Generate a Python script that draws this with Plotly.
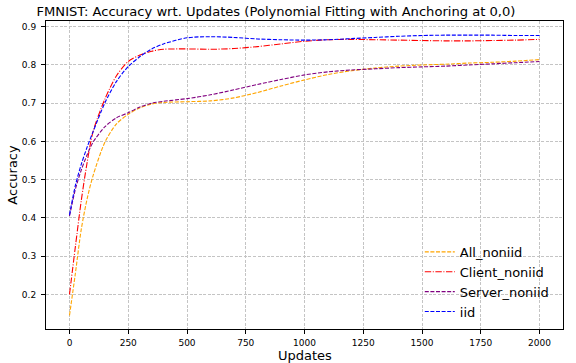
import plotly.graph_objects as go

updates = [0, 25, 50, 75, 100, 150, 200, 250, 300, 350, 400, 500, 600, 700, 800,
           900, 1000, 1100, 1200, 1300, 1400, 1500, 1600, 1700, 1800, 1900, 2000]

all_noniid = [0.145, 0.255, 0.370, 0.450, 0.510, 0.597, 0.646, 0.671, 0.688, 0.698, 0.702,
              0.704, 0.706, 0.714, 0.728, 0.745, 0.761, 0.775, 0.785, 0.792, 0.797,
              0.800, 0.802, 0.805, 0.807, 0.810, 0.814]
client_noniid = [0.200, 0.325, 0.445, 0.545, 0.625, 0.710, 0.772, 0.809, 0.826, 0.836, 0.841,
                 0.842, 0.841, 0.843, 0.848, 0.855, 0.862, 0.866, 0.867, 0.866, 0.865,
                 0.864, 0.863, 0.863, 0.864, 0.865, 0.867]
server_noniid = [0.405, 0.475, 0.525, 0.565, 0.598, 0.638, 0.662, 0.675, 0.690, 0.700, 0.705,
                 0.712, 0.722, 0.735, 0.749, 0.762, 0.774, 0.782, 0.787, 0.790, 0.793,
                 0.795, 0.797, 0.800, 0.803, 0.806, 0.809]
iid = [0.408, 0.485, 0.540, 0.585, 0.625, 0.700, 0.757, 0.796, 0.822, 0.842, 0.855,
       0.871, 0.874, 0.872, 0.868, 0.866, 0.865, 0.866, 0.869, 0.872, 0.875,
       0.877, 0.878, 0.878, 0.878, 0.877, 0.877]

x_ticks = [0, 250, 500, 750, 1000, 1250, 1500, 1750, 2000]
y_ticks = [0.2, 0.3, 0.4, 0.5, 0.6, 0.7, 0.8, 0.9]

series = [
    ("All_noniid", all_noniid, "orange", "4px,1.6px"),
    ("Client_noniid", client_noniid, "red", "6.4px,1.6px,1px,1.6px"),
    ("Server_noniid", server_noniid, "purple", "4px,1.6px"),
    ("iid", iid, "blue", "4px,1.6px"),
]

fig = go.Figure()
for name, vals, color, dash in series:
    fig.add_trace(go.Scatter(
        x=updates, y=vals, mode="lines", name=name,
        line=dict(color=color, width=1.1, dash=dash, shape="spline", smoothing=0.8),
    ))

font = "DejaVu Sans"
axis_common = dict(
    showline=True, linecolor="black", linewidth=1, mirror=True,
    ticks="outside", ticklen=4, tickcolor="black", tickwidth=1,
    automargin=False,
    showgrid=True, gridcolor="#c4c4c4", gridwidth=0.8, griddash="3px,1.5px",
    zeroline=False, tickfont=dict(family=font, size=9, color="black"),
)

fig.update_layout(
    width=576, height=363,
    margin=dict(l=46, r=13, t=21, b=34),
    paper_bgcolor="white", plot_bgcolor="white",
    font=dict(family=font, color="black"),
    title=dict(text="FMNIST: Accuracy wrt. Updates (Polynomial Fitting with Anchoring at 0,0)",
               x=276 / 576, xanchor="center", xref="container",
               y=1 - 11 / 363, yanchor="middle", yref="container",
               font=dict(family=font, size=13.1, color="black")),
    xaxis=dict(range=[-100, 2100], tickvals=x_ticks, ticklabelstandoff=1, **axis_common),
    yaxis=dict(range=[0.1095, 0.915], tickvals=y_ticks, tickformat=".1f", ticklabelstandoff=3,
               title=dict(text="Accuracy", font=dict(family=font, size=13), standoff=1),
               **axis_common),
    legend=dict(x=0.723, y=0.299, xanchor="left", yanchor="top",
                bgcolor="rgba(0,0,0,0)", borderwidth=0,
                font=dict(family=font, size=13), itemwidth=30),
    showlegend=True,
    annotations=[dict(text="Updates", xref="paper", yref="paper", x=0.5, y=-(355.5 - 329) / 308,
                      xanchor="center", yanchor="middle", showarrow=False, borderpad=0,
                      font=dict(family=font, size=13, color="black"))],
)

fig.write_html("out.html")
